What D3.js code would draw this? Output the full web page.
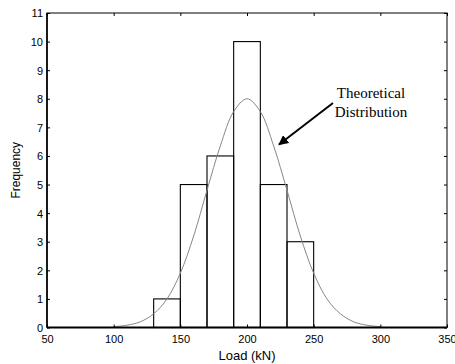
<!DOCTYPE html>
<html><head><meta charset="utf-8">
<script src="https://cdn.jsdelivr.net/npm/d3@7"></script>
<style>body{margin:0;background:#fff}svg{display:block}</style>
</head><body>
<script>
const binStarts = [130, 150, 170, 190, 210, 230];
const binWidth = 20;
const binCounts = [1, 5, 6, 10, 5, 3];
const curveX = [100,110,120,130,140,150,160,170,180,190,200,210,220,230,240,250,260,270,280,290,300];
const curveY = [0.03,0.08,0.2,0.48,1.0,1.9,3.2,4.8,6.35,7.55,8,7.55,6.35,4.8,3.2,1.9,1.0,0.48,0.2,0.08,0.03];
const xTicks = [50,100,150,200,250,300,350];
const yTicks = [0,1,2,3,4,5,6,7,8,9,10,11];
const annotLines = ["Theoretical","Distribution"];
const annotTextAt = [293, 8.03];
const arrowFrom = [264.5, 7.85];
const arrowTo = [224, 6.4];

const W = 455, H = 364;
const m = {l:47, r:8, t:13, b:36.5};
const svg = d3.select("body").append("svg").attr("width", W).attr("height", H);
const x = d3.scaleLinear().domain([50,350]).range([m.l, W-m.r]);
const y = d3.scaleLinear().domain([0,11]).range([H-m.b, m.t]);
const x0 = x.range()[0], x1 = x.range()[1], y0 = y.range()[0], y1 = y.range()[1];

// bars
svg.append("g").selectAll("rect").data(binStarts).join("rect")
  .attr("x", (d)=>x(d)).attr("width", (d)=>x(d+binWidth)-x(d))
  .attr("y", (d,i)=>y(binCounts[i])).attr("height", (d,i)=>y(0)-y(binCounts[i]))
  .attr("fill","none").attr("stroke","#000").attr("stroke-width",1.1);

// curve
svg.append("path").datum(curveX.map((v,i)=>[v,curveY[i]]))
  .attr("d", d3.line().x(d=>x(d[0])).y(d=>y(d[1])).curve(d3.curveCatmullRom))
  .attr("fill","none").attr("stroke","#888").attr("stroke-width",1);

// frame
svg.append("rect").attr("x",x0).attr("y",y1).attr("width",x1-x0).attr("height",y0-y1)
  .attr("fill","none").attr("stroke","#000").attr("stroke-width",1);
svg.append("line").attr("x1",x0).attr("x2",x1).attr("y1",y0).attr("y2",y0).attr("stroke","#000").attr("stroke-width",2.2);
svg.append("line").attr("x1",x0).attr("x2",x0).attr("y1",y0).attr("y2",y1).attr("stroke","#000").attr("stroke-width",1.6);

const tl = 3;
const fontSans = "Arial, 'Liberation Sans', sans-serif";
// axes with inward ticks
const xb = svg.append("g").attr("transform",`translate(0,${y0})`)
  .call(d3.axisBottom(x).tickValues(xTicks).tickSize(-tl).tickPadding(8).tickFormat(d3.format("d")));
const xt = svg.append("g").attr("transform",`translate(0,${y1})`)
  .call(d3.axisTop(x).tickValues(xTicks).tickSize(-tl).tickFormat(""));
const yl = svg.append("g").attr("transform",`translate(${x0},0)`)
  .call(d3.axisLeft(y).tickValues(yTicks).tickSize(-tl).tickPadding(4).tickFormat(d3.format("d")));
const yr = svg.append("g").attr("transform",`translate(${x1},0)`)
  .call(d3.axisRight(y).tickValues(yTicks).tickSize(-tl).tickFormat(""));
[xb,xt,yl,yr].forEach(g=>{
  g.select(".domain").remove();
  g.selectAll(".tick line").attr("stroke","#000");
  g.selectAll("text").attr("fill","#000").style("font-family",fontSans).style("font-size","11px");
});
xb.selectAll(".tick text").attr("dy","0.71em");
yl.selectAll(".tick text").attr("dy","0.36em");

// axis titles
svg.append("text").attr("x",(x0+x1)/2).attr("y",360).attr("text-anchor","middle")
  .style("font-family",fontSans).style("font-size","13px").text("Load (kN)");
svg.append("text").attr("transform",`translate(20,${(y0+y1)/2}) rotate(-90)`).attr("text-anchor","middle")
  .style("font-family",fontSans).style("font-size","12px").text("Frequency");

// annotation
svg.append("defs").append("marker").attr("id","ah").attr("viewBox","0 0 10 10").attr("refX",9).attr("refY",5)
  .attr("markerWidth",5).attr("markerHeight",5).attr("orient","auto-start-reverse").attr("markerUnits","strokeWidth")
  .append("path").attr("d","M0,0 L10,5 L0,10 z").attr("fill","#000");
svg.append("line").attr("x1",x(arrowFrom[0])).attr("y1",y(arrowFrom[1]))
  .attr("x2",x(arrowTo[0])).attr("y2",y(arrowTo[1]))
  .attr("stroke","#000").attr("stroke-width",2).attr("marker-end","url(#ah)");
const at = svg.append("text").attr("text-anchor","middle")
  .style("font-family","'Times New Roman','Liberation Serif',serif").style("font-size","15px");
annotLines.forEach((s,i)=>at.append("tspan").attr("x",x(annotTextAt[0])).attr("y",y(annotTextAt[1])+i*19).text(s));
</script>
</body></html>
